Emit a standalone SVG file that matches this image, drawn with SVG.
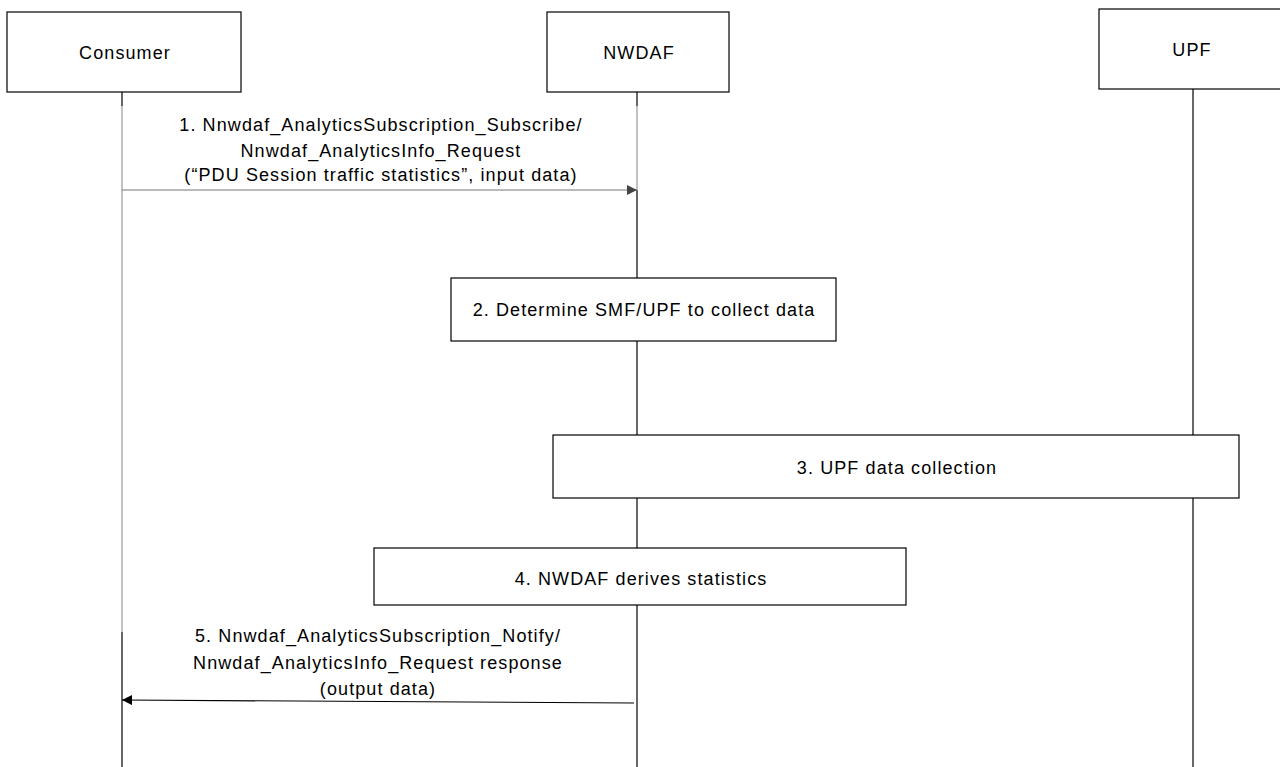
<svg xmlns="http://www.w3.org/2000/svg" width="1280" height="767" viewBox="0 0 1280 767">
<defs>
<style>
.box{fill:#fff;stroke:#000;stroke-width:1.2}
.t{font-family:"Liberation Sans",Arial,sans-serif;font-size:18px;letter-spacing:1.1px;fill:#000;text-anchor:middle}
.life{stroke:#000;stroke-width:1.2}
</style>
<marker id="ah" markerWidth="10" markerHeight="10" refX="10" refY="5" orient="auto" markerUnits="userSpaceOnUse">
<path d="M0,0 L10,5 L0,10 z" fill="#000"/>
</marker>
<marker id="ahg" markerWidth="10" markerHeight="10" refX="10" refY="5" orient="auto" markerUnits="userSpaceOnUse">
<path d="M0,0 L10,5 L0,10 z" fill="#444"/>
</marker>
</defs>
<rect width="1280" height="767" fill="#fff"/>
<g id="lifelines">
<line class="life" x1="122" y1="92" x2="122" y2="106"/>
<line x1="122" y1="106" x2="122" y2="632" stroke="#999" stroke-width="1.2"/>
<line class="life" x1="122" y1="632" x2="122" y2="767"/>
<line class="life" x1="637" y1="92" x2="637" y2="106"/>
<line x1="637" y1="106" x2="637" y2="190" stroke="#999" stroke-width="1.2"/>
<line class="life" x1="637" y1="190" x2="637" y2="767"/>
<line class="life" x1="1193" y1="89" x2="1193" y2="767"/>
</g>
<g id="consumer">
<rect class="box" x="7" y="12" width="234" height="80"/>
<text class="t" x="125" y="59">Consumer</text>
</g>
<g id="nwdaf">
<rect class="box" x="547" y="12" width="182" height="80"/>
<text class="t" x="639" y="59">NWDAF</text>
</g>
<g id="upf">
<rect class="box" x="1099" y="9" width="190" height="80"/>
<text class="t" x="1192" y="56">UPF</text>
</g>
<g id="step2">
<rect class="box" x="451" y="278" width="385" height="63"/>
<text class="t" x="644" y="316">2. Determine SMF/UPF to collect data</text>
</g>
<g id="step3">
<rect class="box" x="553" y="435" width="686" height="63"/>
<text class="t" x="897" y="474">3. UPF data collection</text>
</g>
<g id="step4">
<rect class="box" x="374" y="548" width="532" height="57"/>
<text class="t" x="641" y="585">4. NWDAF derives statistics</text>
</g>
<g id="connectors">
<line x1="122" y1="190" x2="637" y2="190" stroke="#777" stroke-width="1.2" marker-end="url(#ahg)"/>
<line x1="634" y1="703" x2="122" y2="700" stroke="#000" stroke-width="1.2" marker-end="url(#ah)"/>
</g>
<g id="labels">
<text class="t" x="381" y="131">1. Nnwdaf_AnalyticsSubscription_Subscribe/</text>
<text class="t" x="381" y="157">Nnwdaf_AnalyticsInfo_Request</text>
<text class="t" x="381" y="181">(“PDU Session traffic statistics”, input data)</text>
<text class="t" x="378" y="642">5. Nnwdaf_AnalyticsSubscription_Notify/</text>
<text class="t" x="378" y="669">Nnwdaf_AnalyticsInfo_Request response</text>
<text class="t" x="378" y="695">(output data)</text>
</g>
</svg>
